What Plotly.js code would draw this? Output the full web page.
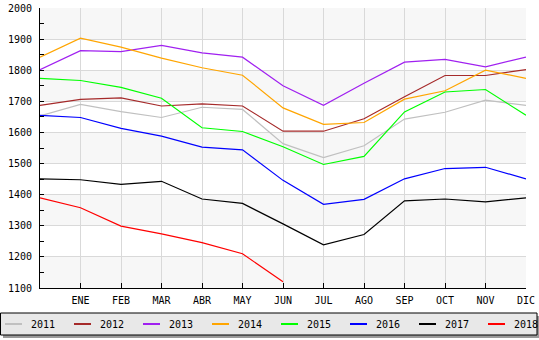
<!DOCTYPE html>
<html><head><meta charset="utf-8">
<script src="https://cdn.plot.ly/plotly-3.0.1.min.js"></script>
<style>html,body{margin:0;padding:0;background:#fff;}#chart{width:539px;height:340px;}</style>
</head><body><div id="chart"></div>
<script>
var months = ["ENE","FEB","MAR","ABR","MAY","JUN","JUL","AGO","SEP","OCT","NOV","DIC"];
var years = ["2011","2012","2013","2014","2015","2016","2017","2018"];
var colors = ["#c0c0c0","#a52a2a","#a020f0","#ffa500","#00ff00","#0000ff","#000000","#ff0000"];
// index 0 = previous December, then ENE..DIC
var y2011 = [1653,1690,1667,1648,1681,1674,1564,1519,1557,1643,1665,1704,1687];
var y2012 = [1687,1706,1711,1685,1692,1685,1604,1604,1644,1715,1783,1783,1802];
var y2013 = [1802,1863,1860,1880,1856,1842,1750,1687,1758,1826,1835,1811,1842];
var y2014 = [1842,1903,1874,1839,1808,1784,1679,1626,1632,1707,1734,1800,1774];
var y2015 = [1774,1767,1745,1710,1615,1603,1554,1497,1523,1666,1730,1738,1655];
var y2016 = [1655,1648,1613,1588,1553,1544,1446,1369,1385,1451,1484,1488,1451];
var y2017 = [1451,1448,1433,1443,1386,1372,1306,1239,1272,1380,1386,1377,1390];
var y2018 = [1390,1358,1299,1274,1246,1210,1120];
var series = [y2011,y2012,y2013,y2014,y2015,y2016,y2017,y2018];

var W=539,H=340,L=40,R=13,T=8,B=52;
var pw=W-L-R, ph=H-T-B;
function px2x(p){return (p-L)/pw;}
function py2y(p){return (H-B-p)/ph;}

var traces = series.map(function(s,i){
  return {x:s.map(function(_,j){return j;}), y:s, type:'scatter', mode:'lines',
    name:years[i], line:{color:colors[i], width:1.2}, showlegend:false, hoverinfo:'skip'};
});

var shapes = [];
for (var b=1100;b<2000;b+=200){
  shapes.push({type:'rect',xref:'paper',yref:'y',x0:0,x1:1,y0:b,y1:b+100,fillcolor:'#f7f7f7',line:{width:0},layer:'below'});
}
// legend box + shadow
shapes.push({type:'rect',xref:'paper',yref:'paper',x0:px2x(3),x1:px2x(540),y0:py2y(338),y1:py2y(316),fillcolor:'#9a9a9a',line:{width:0}});
shapes.push({type:'rect',xref:'paper',yref:'paper',x0:px2x(0.5),x1:px2x(537),y0:py2y(335),y1:py2y(313),fillcolor:'#e8e8e8',line:{color:'#000',width:1}});
var annotations=[];
years.forEach(function(yr,i){
  var x0=5+69*i;
  shapes.push({type:'line',xref:'paper',yref:'paper',x0:px2x(x0),x1:px2x(x0+17),y0:py2y(324),y1:py2y(324),line:{color:colors[i],width:2}});
  annotations.push({xref:'paper',yref:'paper',x:px2x(x0+24),y:py2y(324),text:yr,showarrow:false,xanchor:'left',yanchor:'middle',
    font:{family:'DejaVu Sans Mono',size:10,color:'#000'}});
});

var layout = {
  width:W,height:H,margin:{l:L,r:R,t:T,b:B,pad:0},
  paper_bgcolor:'#fff',plot_bgcolor:'#fff',
  font:{family:'DejaVu Sans Mono',size:10,color:'#000'},
  xaxis:{range:[0,12],tickvals:months.map(function(_,i){return i+1;}),ticktext:months,
    showgrid:true,gridcolor:'#d9d9d9',gridwidth:1,zeroline:false,
    showline:true,linecolor:'#000',linewidth:1,ticks:'inside',ticklen:5,tickcolor:'#000',
    ticklabelstandoff:3,
    tickfont:{family:'DejaVu Sans Mono',size:10,color:'#000'},fixedrange:true},
  yaxis:{range:[1100,2000],dtick:100,tick0:1100,showgrid:true,gridcolor:'#d9d9d9',gridwidth:1,zeroline:false,
    showline:true,linecolor:'#000',linewidth:1,ticks:'inside',ticklen:4,tickcolor:'#000',
    minor:{dtick:50,ticks:'inside',ticklen:4,tickcolor:'#000',showgrid:false},
    ticklabelstandoff:5,
    tickfont:{family:'DejaVu Sans Mono',size:10,color:'#000'},fixedrange:true},
  showlegend:false,shapes:shapes,annotations:annotations
};
Plotly.newPlot('chart',traces,layout,{displayModeBar:false,staticPlot:true});
</script></body></html>
